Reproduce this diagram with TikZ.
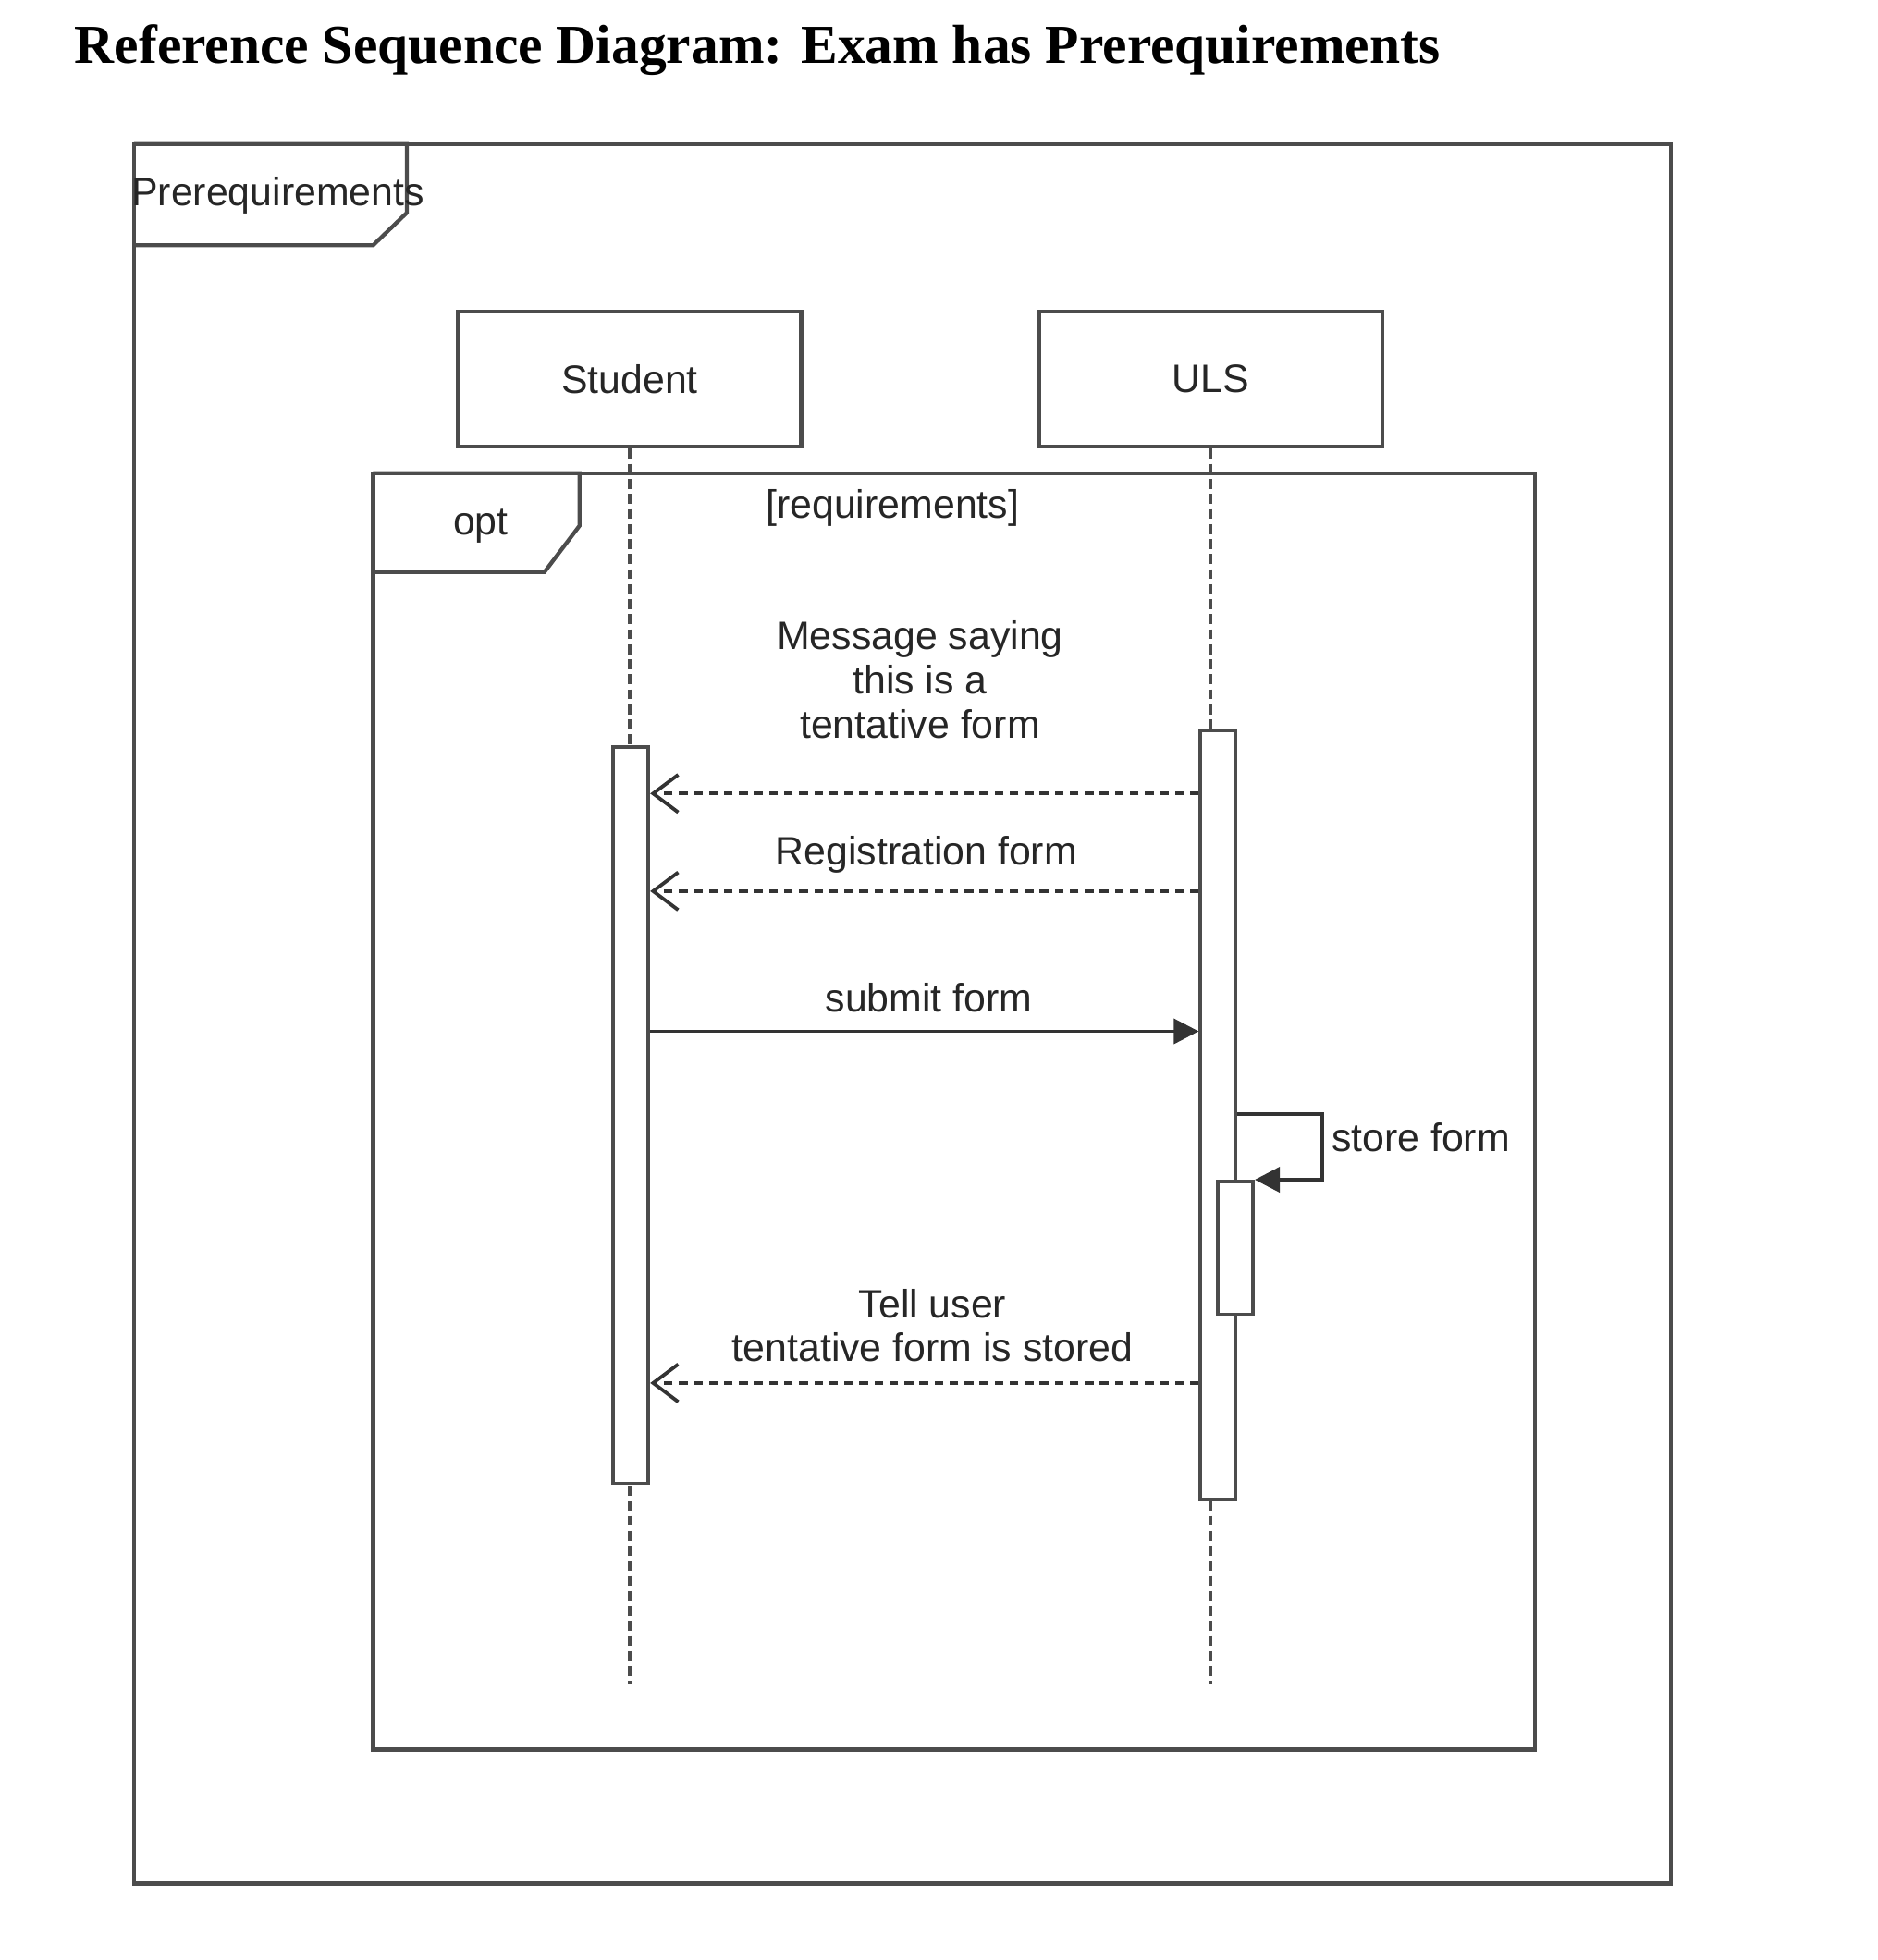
\documentclass[tikz,border=0pt]{standalone}
\usepackage{fontspec}
\setmainfont{Liberation Sans}
\newfontfamily\titlefont{Liberation Serif}
\usepackage{tikz}
\usetikzlibrary{arrows.meta, positioning}

\begin{document}
\begin{tikzpicture}
  [
    x=0.01cm, y=-0.01cm,
    Frame/.style={draw=black!70, line width=0.9pt},
    Actor/.style={rectangle, draw=black!70, line width=0.9pt, minimum width=2.74cm, minimum height=1.08cm, font=\fontsize{9}{11}\selectfont, text=black!85},
    Bar/.style={rectangle, draw=black!70, fill=white, line width=0.8pt, minimum width=0.28cm, inner sep=0pt},
    Life/.style={draw=black!70, line width=0.7pt, dash pattern=on 0.8mm off 0.4mm},
    Txt/.style={font=\fontsize{9}{10}\selectfont, text=black!85, align=center, inner sep=1pt},
    Call/.style={draw=black!80, line width=0.8pt, -{Triangle[length=2mm, width=2mm]}},
    Reply/.style={draw=black!80, line width=0.8pt, dash pattern=on 0.7mm off 0.5mm, -{Straight Barb[length=2mm, width=3mm]}}
  ]
  \useasboundingbox (0,0) rectangle (1500,1566);

  % Title
  \node[font=\titlefont\bfseries\fontsize{12.5}{15}\selectfont] (title) at (605,40) {Reference Sequence Diagram: Exam has Prerequirements};

  % Frames
  \path [Frame] (107,115) rectangle (1335,1505);
  \path [Frame] (107,115) -- (325,115) -- (325,170) -- (298,196) -- (107,196);
  \node[Txt] (prereq) at (222,156) {Prerequirements};
  \path [Frame] (298,378) rectangle (1226,1398);
  \path [Frame] (298,378) -- (463,378) -- (463,420) -- (435,457) -- (298,457);
  \node[Txt] (opt) at (384,420) {opt};
  \node[Txt] (guard) at (713,406) {[requirements]};

  % Nodes
  \node[Actor] (student) at (503,303) {Student};
  \node[Actor] (uls) at (967,303) {ULS};
  \coordinate (studentEnd) at (503,1345);
  \coordinate (ulsEnd) at (967,1345);
  \path [Life] (student) -- (studentEnd);
  \path [Life] (uls) -- (ulsEnd);
  \node[Bar, minimum height=5.88cm] (actStudent) at (504,891) {};
  \node[Bar, minimum height=6.14cm] (actUls) at (973,891) {};
  \node[Bar, minimum height=1.06cm] (actStore) at (987,997) {};

  % Message heights
  \coordinate (m1) at (0,634);
  \coordinate (m2) at (0,712);
  \coordinate (m3) at (0,824);
  \coordinate (s1) at (0,890);
  \coordinate (m4) at (0,1105);

  % Lines
  \path [Reply] (actUls.west |- m1) -- (actStudent.east |- m1);
  \node[Txt] (msgTentative) at (735,543) {Message saying\\this is a\\tentative form};
  \path [Reply] (actUls.west |- m2) -- (actStudent.east |- m2);
  \node[Txt] (msgRegistration) at (740,683) {Registration form};
  \path [Call] (actStudent.east |- m3) -- (actUls.west |- m3);
  \node[Txt] (msgSubmit) at (742,797) {submit form};
  \path [Call] (actUls.east |- s1) -- ++(68,0) |- (actStore.north east);
  \node[Txt] (msgStore) at (1135,909) {store form};
  \path [Reply] (actUls.west |- m4) -- (actStudent.east |- m4);
  \node[Txt] (msgTell) at (745,1059) {Tell user\\tentative form is stored};

\end{tikzpicture}
\end{document}
